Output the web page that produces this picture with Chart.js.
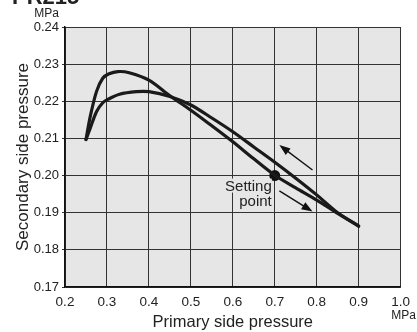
<!DOCTYPE html>
<html><head><meta charset="utf-8">
<script src="https://cdn.jsdelivr.net/npm/chart.js@4"></script>
<style>html,body{margin:0;padding:0;background:#fff}</style>
</head><body>
<canvas id="c" width="417" height="332" style="width:417px;height:332px;display:block"></canvas>
<script>
// Increasing primary pressure branch (passes through the setting point)
const upX = [0.25, 0.26, 0.275, 0.29, 0.305, 0.326, 0.353, 0.40, 0.45, 0.50, 0.55, 0.60, 0.65, 0.70, 0.75, 0.80, 0.85, 0.90];
const upY = [0.2097, 0.2158, 0.2226, 0.2262, 0.2274, 0.2280, 0.2277, 0.2257, 0.2215, 0.2176, 0.2134, 0.2091, 0.2045, 0.2001, 0.1967, 0.1934, 0.1898, 0.1864];
// Decreasing primary pressure branch
const downX = [0.25, 0.26, 0.275, 0.29, 0.302, 0.33, 0.37, 0.40, 0.45, 0.50, 0.55, 0.60, 0.65, 0.70, 0.75, 0.80, 0.85, 0.90];
const downY = [0.2097, 0.2127, 0.2172, 0.2196, 0.2205, 0.2219, 0.2226, 0.2226, 0.2213, 0.2190, 0.2155, 0.2118, 0.2077, 0.2036, 0.1993, 0.1948, 0.1900, 0.1864];
// Setting point
const setX = [0.70];
const setY = [0.200];
// Direction arrows [tailX, tailY, headX, headY]
const arrowUp = [0.790, 0.2015, 0.711, 0.2082];
const arrowDown = [0.711, 0.1959, 0.790, 0.1903];
// Axis tick labels
const xTicks = ['0.2','0.3','0.4','0.5','0.6','0.7','0.8','0.9','1.0'];
const yTicks = ['0.17','0.18','0.19','0.20','0.21','0.22','0.23','0.24'];
const titleText = 'PR215';
const xTitle = 'Primary side pressure';
const yTitle = 'Secondary side pressure';
const unit = 'MPa';
const setLabel = ['Setting', 'point'];

const pts = (xs, ys) => xs.map((x, i) => ({x, y: ys[i]}));
const FONT = '"Liberation Sans", Arial, Helvetica, sans-serif';

const deco = {
  id: 'deco',
  beforeDraw(chart) {
    const {ctx, chartArea: a} = chart;
    ctx.save();
    ctx.fillStyle = '#e6e6e6';
    ctx.fillRect(a.left, a.top, a.right - a.left, a.bottom - a.top);
    ctx.restore();
  },
  afterDatasetsDraw(chart) {
    const {ctx, scales: {x, y}} = chart;
    ctx.save();
    // Setting label
    const px = x.getPixelForValue(setX[0]), py = y.getPixelForValue(setY[0]);
    ctx.font = '15px ' + FONT;
    ctx.textAlign = 'right';
    ctx.textBaseline = 'alphabetic';
    ctx.fillStyle = '#e6e6e6';
    const w0 = ctx.measureText(setLabel[0]).width;
    ctx.fillRect(px - 3 - w0, py + 3, w0, 14);
    ctx.fillStyle = '#222';
    ctx.fillText(setLabel[0], px - 3, py + 15);
    ctx.fillText(setLabel[1], px - 3, py + 30);
    // arrows
    const drawArrow = (a) => {
      const x1 = x.getPixelForValue(a[0]), y1 = y.getPixelForValue(a[1]);
      const x2 = x.getPixelForValue(a[2]), y2 = y.getPixelForValue(a[3]);
      const ang = Math.atan2(y2 - y1, x2 - x1);
      const L = 11, W = 4;
      ctx.strokeStyle = '#111'; ctx.fillStyle = '#111'; ctx.lineWidth = 1.4;
      ctx.beginPath();
      ctx.moveTo(x1, y1);
      ctx.lineTo(x2 - L * 0.8 * Math.cos(ang), y2 - L * 0.8 * Math.sin(ang));
      ctx.stroke();
      ctx.beginPath();
      ctx.moveTo(x2, y2);
      ctx.lineTo(x2 - L * Math.cos(ang) + W * Math.sin(ang), y2 - L * Math.sin(ang) - W * Math.cos(ang));
      ctx.lineTo(x2 - L * Math.cos(ang) - W * Math.sin(ang), y2 - L * Math.sin(ang) + W * Math.cos(ang));
      ctx.closePath();
      ctx.fill();
    };
    drawArrow(arrowUp);
    drawArrow(arrowDown);
    // Units and title
    ctx.fillStyle = '#222';
    ctx.font = '12px ' + FONT;
    ctx.textAlign = 'right';
    ctx.fillText(unit, y.right - 6, y.top - 10);
    ctx.textAlign = 'center';
    ctx.fillText(unit, x.right + 3, x.top + 32);
    ctx.font = 'bold 22px ' + FONT;
    ctx.textAlign = 'left';
    ctx.fillText(titleText, 12, 4);
    ctx.restore();
  }
};

new Chart(document.getElementById('c'), {
  type: 'scatter',
  data: {
    datasets: [
      {data: pts(upX, upY), showLine: true, borderColor: '#1a1a1a', borderWidth: 3.2, pointRadius: 0, tension: 0.3, borderCapStyle: 'round', borderJoinStyle: 'round'},
      {data: pts(downX, downY), showLine: true, borderColor: '#1a1a1a', borderWidth: 3.2, pointRadius: 0, tension: 0.3, borderCapStyle: 'round', borderJoinStyle: 'round'},
      {data: pts(setX, setY), showLine: false, pointRadius: 5.5, backgroundColor: '#111', borderColor: '#111', borderWidth: 0}
    ]
  },
  options: {
    responsive: false,
    animation: false,
    events: [],
    layout: {padding: {left: 0, top: 27, right: 13, bottom: 0}},
    plugins: {legend: {display: false}, tooltip: {enabled: false}},
    scales: {
      x: {
        type: 'linear', min: 0.2, max: 1.0,
        afterBuildTicks(s) { s.ticks = xTicks.map(v => ({value: parseFloat(v)})); },
        afterFit(s) { s.height = 45; },
        ticks: {callback: (v, i) => xTicks[i], color: '#222', font: {family: FONT, size: 13.5}, padding: 7, maxRotation: 0, autoSkip: false},
        grid: {color: '#333', lineWidth: 1, drawTicks: false},
        border: {color: '#111', width: 1.5},
        title: {display: true, text: xTitle, color: '#222', font: {family: FONT, size: 16.5}, padding: {top: 2, bottom: 0}}
      },
      y: {
        type: 'linear', min: 0.17, max: 0.24,
        afterBuildTicks(s) { s.ticks = yTicks.map(v => ({value: parseFloat(v)})); },
        afterFit(s) { s.width = 65; },
        ticks: {callback: (v, i) => yTicks[i], color: '#222', font: {family: FONT, size: 13}, padding: 3, autoSkip: false},
        grid: {color: '#333', lineWidth: 1, drawTicks: true, tickLength: 3},
        border: {color: '#111', width: 1.5},
        title: {display: true, text: yTitle, color: '#222', font: {family: FONT, size: 17}, padding: {top: 13, bottom: 0}}
      }
    }
  },
  plugins: [deco]
});
</script>
</body></html>
